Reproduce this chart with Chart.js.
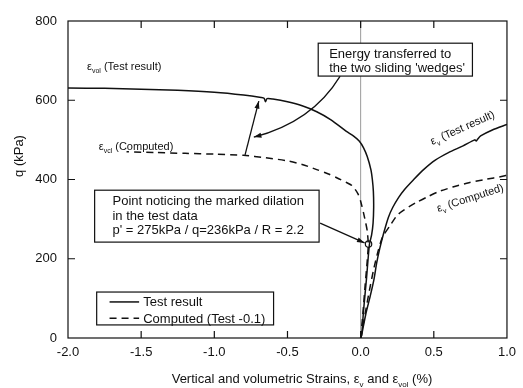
<!DOCTYPE html>
<html>
<head>
<meta charset="utf-8">
<script src="https://cdn.jsdelivr.net/npm/chart.js@4.4.1/dist/chart.umd.min.js"></script>
<style>
  html, body { margin: 0; padding: 0; background: #fff; }
  #wrap { width: 523px; height: 388px; }
</style>
</head>
<body>
<div id="wrap"><canvas id="myChart"></canvas></div>
<script>
// strain (%) and q (kPa)
var volTestX = [0, 0.007, 0.02, 0.04, 0.06, 0.075, 0.085, 0.089, 0.087, 0.08, 0.07, 0.045, 0.02, -0.01, -0.05, -0.1, -0.2, -0.3, -0.4, -0.5, -0.6, -0.64, -0.65, -0.66, -0.68, -0.8, -1.0, -1.25, -1.5, -1.75, -2.0];
var volTestQ = [0, 8, 70, 150, 236, 260, 290, 330, 370, 400, 425, 458, 480, 497, 510, 522, 550, 571, 586, 596, 603, 604, 596, 605, 607, 613, 620, 625, 628, 630, 631];

var volCompX = [0, 0.015, 0.03, 0.045, 0.052, 0.045, 0.035, 0.02, 0.0, -0.02, -0.06, -0.1, -0.15, -0.22, -0.3, -0.4, -0.5, -0.65, -0.8, -1.0, -1.2, -1.4, -1.6];
var volCompQ = [0, 60, 130, 195, 236, 270, 290, 315, 345, 365, 385, 393, 402, 414, 425, 438, 447, 455, 461, 464, 466, 468, 470];

var vTestX = [0, 0.007, 0.035, 0.065, 0.09, 0.11, 0.13, 0.16, 0.19, 0.22, 0.26, 0.3, 0.36, 0.43, 0.51, 0.6, 0.7, 0.78, 0.79, 0.8, 0.82, 0.9, 1.0];
var vTestQ = [0, 8, 60, 105, 146, 190, 225, 268, 305, 330, 355, 375, 399, 425, 449, 468, 485, 500, 497, 502, 510, 525, 539];

var vCompX = [0, 0.03, 0.06, 0.09, 0.12, 0.15, 0.2, 0.25, 0.3, 0.38, 0.45, 0.53, 0.63, 0.74, 0.85, 0.97, 1.0];
var vCompQ = [0, 60, 120, 175, 220, 255, 283, 310, 324, 342, 355, 369, 381, 392, 400, 408, 411];

var dilationX = [0.054];
var dilationQ = [237];

var xTicks = [-2.0, -1.5, -1.0, -0.5, 0.0, 0.5, 1.0];
var qTicks = [0, 200, 400, 600, 800];

var font = "'Liberation Sans', Arial, sans-serif";
var ink = "#111";

function pts(xs, ys) {
  var out = [];
  for (var i = 0; i < xs.length; i++) out.push({x: xs[i], y: ys[i]});
  return out;
}

// text with subscripts: parts = [[text, isSub], ...]
function richText(ctx, parts, x, y, size) {
  var cx = x;
  parts.forEach(function(p) {
    if (p[1]) {
      ctx.font = Math.round(size * 0.62) + "px " + font;
      ctx.fillText(p[0], cx, y + size * 0.3);
    } else {
      ctx.font = size + "px " + font;
      ctx.fillText(p[0], cx, y);
    }
    cx += ctx.measureText(p[0]).width;
  });
  return cx - x;
}
function richWidth(ctx, parts, size) {
  var w = 0;
  parts.forEach(function(p) {
    ctx.font = (p[1] ? Math.round(size * 0.62) : size) + "px " + font;
    w += ctx.measureText(p[0]).width;
  });
  return w;
}

function arrowHead(ctx, fx, fy, tx, ty) {
  var a = Math.atan2(ty - fy, tx - fx);
  var L = 8, W = 0.32;
  ctx.beginPath();
  ctx.moveTo(tx, ty);
  ctx.lineTo(tx - L * Math.cos(a - W), ty - L * Math.sin(a - W));
  ctx.lineTo(tx - L * Math.cos(a + W), ty - L * Math.sin(a + W));
  ctx.closePath();
  ctx.fill();
}

var deco = {
  id: 'deco',
  beforeDatasetsDraw: function(chart) {
    var ctx = chart.ctx, a = chart.chartArea, sx = chart.scales.x;
    var x0 = sx.getPixelForValue(0);
    ctx.save();
    ctx.strokeStyle = "#9a9a9a";
    ctx.lineWidth = 1;
    ctx.beginPath();
    ctx.moveTo(x0, a.top);
    ctx.lineTo(x0, a.bottom);
    ctx.stroke();
    ctx.restore();
  },
  afterDraw: function(chart) {
    var ctx = chart.ctx, a = chart.chartArea;
    var sx = chart.scales.x, sy = chart.scales.y;
    function X(v) { return sx.getPixelForValue(v); }
    function Y(v) { return sy.getPixelForValue(v); }
    ctx.save();
    ctx.strokeStyle = ink;
    ctx.fillStyle = ink;

    // frame + inward ticks
    ctx.lineWidth = 1.2;
    ctx.strokeRect(a.left, a.top, a.right - a.left, a.bottom - a.top);
    ctx.beginPath();
    xTicks.forEach(function(t) {
      if (t === xTicks[0] || t === xTicks[xTicks.length - 1]) return;
      var p = X(t);
      ctx.moveTo(p, a.bottom); ctx.lineTo(p, a.bottom - 7);
      ctx.moveTo(p, a.top); ctx.lineTo(p, a.top + 7);
    });
    qTicks.forEach(function(t) {
      if (t === qTicks[0] || t === qTicks[qTicks.length - 1]) return;
      var p = Y(t);
      ctx.moveTo(a.left, p); ctx.lineTo(a.left + 7, p);
      ctx.moveTo(a.right, p); ctx.lineTo(a.right - 7, p);
    });
    ctx.stroke();

    // axis titles
    ctx.textBaseline = "alphabetic";
    ctx.textAlign = "left";
    var xt = [["Vertical and volumetric Strains, ", 0], ["\u03b5", 0], ["v", 1], [" and ", 0], ["\u03b5", 0], ["vol", 1], [" (%)", 0]];
    var w = richWidth(ctx, xt, 13);
    richText(ctx, xt, 302 - w / 2, 383, 13);
    ctx.save();
    ctx.translate(23, 156);
    ctx.rotate(-Math.PI / 2);
    ctx.textAlign = "center";
    ctx.font = "13px " + font;
    ctx.fillText("q (kPa)", 0, 0);
    ctx.restore();

    // curve labels
    ctx.textAlign = "left";
    richText(ctx, [["\u03b5", 0], ["vol", 1], [" (Test result)", 0]], X(-1.87), Y(676), 11);
    richText(ctx, [["\u03b5", 0], ["vcl", 1], [" (Computed)", 0]], X(-1.79), Y(474), 11);
    ctx.save();
    ctx.translate(X(0.49), Y(487));
    ctx.rotate(-24 * Math.PI / 180);
    richText(ctx, [["\u03b5", 0], ["v", 1], [" (Test result)", 0]], 0, 0, 11);
    ctx.restore();
    ctx.save();
    ctx.translate(X(0.53), Y(318));
    ctx.rotate(-18 * Math.PI / 180);
    richText(ctx, [["\u03b5", 0], ["v", 1], [" (Computed)", 0]], 0, 0, 11);
    ctx.restore();

    // arrows
    ctx.lineWidth = 1.3;
    var f = [X(-0.79), Y(462)], t = [X(-0.696), Y(598)];
    ctx.beginPath(); ctx.moveTo(f[0], f[1]); ctx.lineTo(t[0], t[1]); ctx.stroke();
    arrowHead(ctx, f[0], f[1], t[0], t[1]);

    var s = [X(-0.14), Y(661)], c = [X(-0.331), Y(545)], e = [X(-0.73), Y(507)];
    ctx.beginPath(); ctx.moveTo(s[0], s[1]); ctx.quadraticCurveTo(c[0], c[1], e[0], e[1]); ctx.stroke();
    arrowHead(ctx, c[0], c[1], e[0], e[1]);

    f = [X(-0.277), Y(290)]; t = [X(0.027), Y(240)];
    ctx.beginPath(); ctx.moveTo(f[0], f[1]); ctx.lineTo(t[0], t[1]); ctx.stroke();
    arrowHead(ctx, f[0], f[1], t[0], t[1]);

    // text boxes
    ctx.lineWidth = 1.2;
    function box(x1, q1, x2, q2) {
      ctx.fillStyle = "#fff";
      ctx.fillRect(X(x1), Y(q1), X(x2) - X(x1), Y(q2) - Y(q1));
      ctx.strokeRect(X(x1), Y(q1), X(x2) - X(x1), Y(q2) - Y(q1));
      ctx.fillStyle = ink;
    }
    box(-0.29, 744, 0.764, 661);
    ctx.font = "13px " + font;
    ctx.fillText("Energy transferred to", X(-0.215), Y(707));
    ctx.fillText("the two sliding 'wedges'", X(-0.215), Y(671));

    box(-1.818, 373, -0.284, 242);
    ctx.fillText("Point noticing the marked dilation", X(-1.696), Y(336));
    ctx.fillText("in the test data", X(-1.696), Y(298));
    ctx.fillText("p' = 275kPa / q=236kPa / R = 2.2", X(-1.696), Y(262));

    // legend
    box(-1.804, 116, -0.595, 33);
    var items = [chart.data.datasets[0], chart.data.datasets[1]];
    var rows = [91, 50];
    items.forEach(function(ds, i) {
      ctx.save();
      ctx.lineWidth = 1.5;
      ctx.setLineDash(ds.borderDash || []);
      ctx.beginPath();
      ctx.moveTo(X(-1.716), Y(rows[i]));
      ctx.lineTo(X(-1.514), Y(rows[i]));
      ctx.stroke();
      ctx.restore();
      ctx.font = "13px " + font;
      ctx.fillText(ds.legendText, X(-1.486), Y(rows[i]) + 4.5);
    });
    ctx.restore();
  }
};

var solid = { borderColor: ink, borderWidth: 1.5, pointRadius: 0, showLine: true, fill: false, tension: 0.25 };
var dashed = Object.assign({}, solid, { borderDash: [7, 5] });

new Chart("myChart", {
  type: "scatter",
  data: {
    datasets: [
      Object.assign({ label: "volTest", legendText: "Test result", data: pts(volTestX, volTestQ) }, solid),
      Object.assign({ label: "volComp", legendText: "Computed (Test -0.1)", data: pts(volCompX, volCompQ) }, dashed),
      Object.assign({ label: "vTest", data: pts(vTestX, vTestQ) }, solid),
      Object.assign({ label: "vComp", data: pts(vCompX, vCompQ) }, dashed),
      { label: "dilation", data: pts(dilationX, dilationQ), pointRadius: 3.2, pointBackgroundColor: "#fff",
        pointBorderColor: ink, pointBorderWidth: 1.2, showLine: false }
    ]
  },
  options: {
    responsive: true,
    maintainAspectRatio: false,
    animation: false,
    layout: { padding: { top: 21, right: 11, left: 0, bottom: 0 } },
    plugins: { legend: { display: false }, tooltip: { enabled: false } },
    scales: {
      x: {
        type: "linear", min: -2, max: 1,
        grid: { display: false, drawTicks: false },
        border: { display: false },
        ticks: { stepSize: 0.5, padding: 7, color: ink, font: { family: font, size: 13 },
          callback: function(v) { return v.toFixed(1); } },
        afterFit: function(s) { s.height = 50; }
      },
      y: {
        min: 0, max: 800,
        grid: { display: false, drawTicks: false },
        border: { display: false },
        ticks: { stepSize: 200, padding: 11, color: ink, font: { family: font, size: 13 } },
        afterFit: function(s) { s.width = 68; }
      }
    }
  },
  plugins: [deco]
});
</script>
</body>
</html>
